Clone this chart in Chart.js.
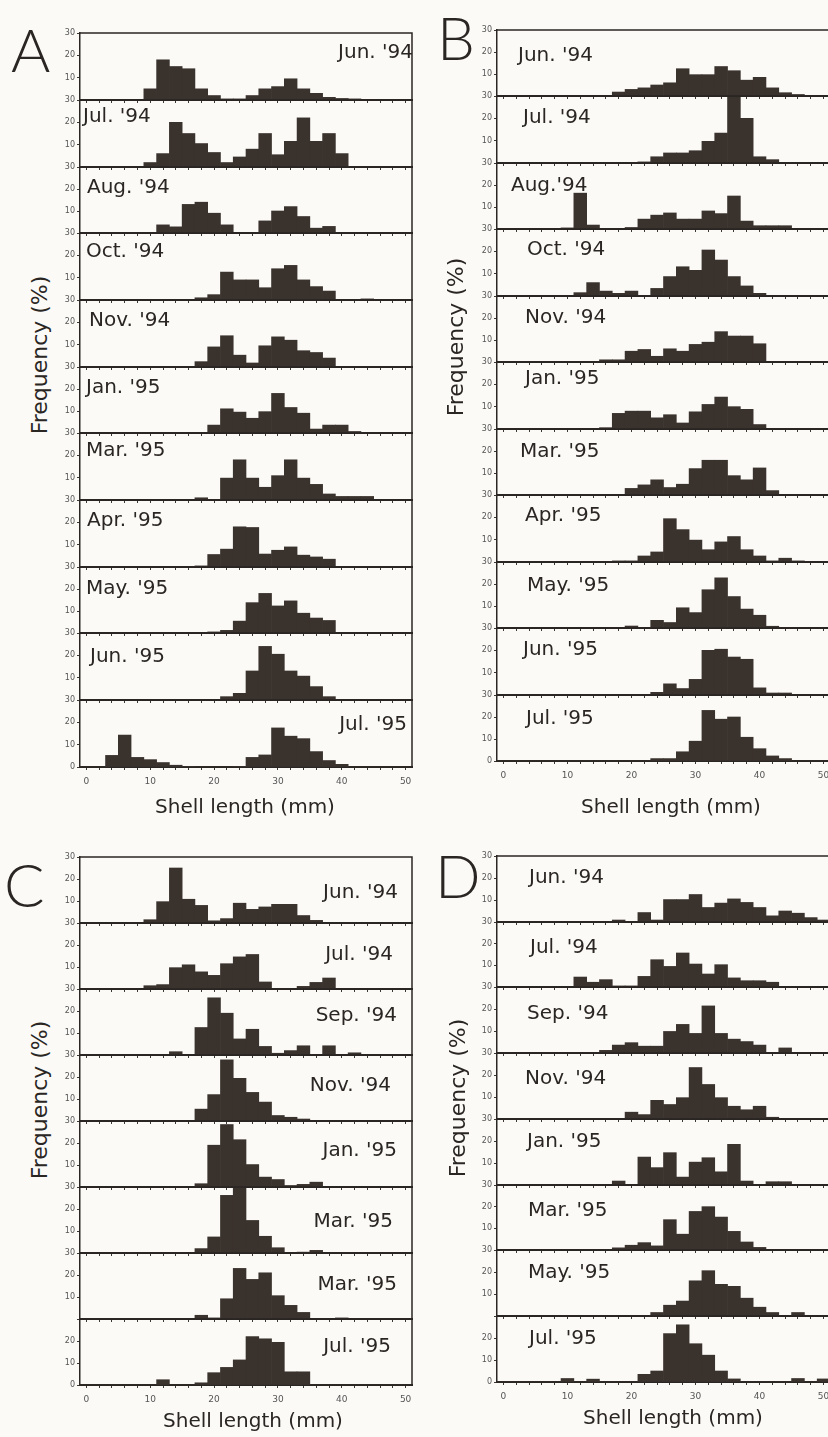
<!DOCTYPE html>
<html>
<head>
<meta charset="utf-8">
<script src="https://cdn.jsdelivr.net/npm/chart.js@4.4.1/dist/chart.umd.min.js"></script>
<style>
  html, body { margin: 0; padding: 0; background: #fbfaf7; overflow: hidden; }
  body { width: 828px; height: 1437px; position: relative; font-family: 'DejaVu Sans', sans-serif; color: #2a2623; }
  canvas { position: absolute; }
  .letter { position: absolute; font-family: 'Lato', 'DejaVu Sans', sans-serif; font-weight: 300; font-size: 60px; line-height: 1; }
  .ytitle { position: absolute; font-size: 22px; white-space: nowrap; transform: translate(-50%, -50%) rotate(-90deg); }
  .xtitle { position: absolute; font-size: 20px; white-space: nowrap; transform: translate(-50%, -50%); }
</style>
</head>
<body>
<script>
// shell length classes (mm), 2 mm bins centred on even values
const bins = [0, 2, 4, 6, 8, 10, 12, 14, 16, 18, 20, 22, 24, 26, 28, 30, 32, 34, 36, 38, 40, 42, 44, 46, 48, 50];
const yTicks = [0, 10, 20, 30];

const monthsA = ["Jun. '94", "Jul. '94", "Aug. '94", "Oct. '94", "Nov. '94", "Jan. '95", "Mar. '95", "Apr. '95", "May. '95", "Jun. '95", "Jul. '95"];
const seriesA = [
  [0,0,0,0,0,5,18,15,14,5,2,0.5,0.5,2,5,6,9.5,5,3,1.2,0.7,0.5,0.2,0,0,0],
  [0,0,0,0,0,2,6,20,15,10.5,6.5,2,4.5,8,15,5.5,11.5,22,11.5,15,6,0,0,0,0,0],
  [0,0,0,0,0,0,3.7,2.8,13,14,9,3.7,0,0,5.5,10,12,7.5,2.2,3,0,0,0,0,0,0],
  [0,0,0,0,0,0,0,0,0,1,2.4,12.5,9,9,5.5,14,15.5,9,6,4,0,0,0.5,0,0,0],
  [0,0,0,0,0,0,0,0,0,2.4,9,14,5.3,1.8,9.5,13.5,12,7.3,6.5,4,0,0,0,0,0,0],
  [0,0,0,0,0,0,0,0,0,0,3.6,11,9.5,6.7,9.7,18,11.6,9,1.8,3.6,3.6,0.7,0,0,0,0],
  [0,0,0,0,0,0,0,0,0,1,0.3,9.8,18,9.8,5.7,10.9,18,9.8,7,2.7,1.6,1.6,1.6,0,0,0],
  [0,0,0,0,0,0,0,0,0,0.5,5.6,8,18,17.7,5.8,7.5,9,5.3,4.5,3.5,0,0,0,0,0,0],
  [0,0,0,0,0,0,0,0,0,0,0.5,1.2,5.4,13.8,18,12.3,14.6,9,6.8,5.7,0,0,0,0,0,0],
  [0,0,0,0,0,0,0,0,0,0,0,1.5,3,13,24,20.5,13,10.7,6,1.5,0,0,0,0,0,0],
  [0,0,5.2,14.3,4.3,3.3,2,0.8,0.3,0,0,0,0.3,4.3,5.4,17.5,13.8,12.7,6.9,2.9,1.2,0,0,0,0,0]
];

const monthsB = ["Jun. '94", "Jul. '94", "Aug.'94", "Oct. '94", "Nov. '94", "Jan. '95", "Mar. '95", "Apr. '95", "May. '95", "Jun. '95", "Jul. '95"];
const seriesB = [
  [0,0,0,0,0,0,0,0,0,1.8,3,3.7,5,6,12.4,9.7,9.7,13.4,11.5,7.2,8.5,3.7,1.5,0.7,0.2,0],
  [0,0,0,0,0,0,0,0,0,0,0,0.5,2.8,4.5,4.5,5.5,9.7,13.4,29.5,20,2.8,1.5,0,0,0,0],
  [0,0,0,0,0,0.5,16.3,1.8,0.3,0,0.7,4.5,6.3,7.3,4.5,4.5,8.2,7,15,3.6,1.5,1.5,1.5,0,0,0],
  [0,0,0,0,0,0,1.5,6,2.2,1.2,2.2,0.3,3.4,8.7,13.1,11.5,20.6,16.1,8.7,4.5,1.2,0,0,0,0,0],
  [0,0,0,0,0,0,0,0,1,1,4.9,5.7,2.6,6,4.9,8,9,13.8,11.8,11.8,8.3,0,0,0,0,0],
  [0,0,0,0,0,0,0,0,0.6,7,8,8,5,6.4,2.7,7.7,11,14.3,10,8.8,2,0,0,0,0,0],
  [0,0,0,0,0,0,0,0,0,0,3,4.6,6.9,3.4,4.9,12,15.8,15.8,8.8,6.9,12.3,2,0,0,0,0],
  [0,0,0,0,0,0,0,0,0,0.5,0.5,2.7,4.5,19.4,14.5,9.8,5.5,9,11.4,5.5,2.7,0.5,1.7,0.5,0.3,0],
  [0,0,0,0,0,0,0,0,0,0.3,0.9,0.3,3.5,2.5,9.2,7,17.4,22.8,14.3,8.6,5.8,0.8,0.3,0,0,0],
  [0,0,0,0,0,0,0,0,0,0,0,0,1.2,5,2.9,7,20,20.5,17,16,3.2,0.9,0.9,0,0,0],
  [0,0,0,0,0,0,0,0,0,0,0,0,1.1,1.1,4.2,9,23,19,20,10.8,5.6,2.3,1.1,0,0,0]
];

const monthsC = ["Jun. '94", "Jul. '94", "Sep. '94", "Nov. '94", "Jan. '95", "Mar. '95", "Mar. '95", "Jul. '95"];
const seriesC = [
  [0,0,0,0,0.2,1.5,9.7,25,10.8,8,1,2,9,6.2,7.3,8.5,8.5,3.4,1.2,0,0,0,0,0,0,0],
  [0,0,0,0,0,1.5,2,9.7,11,7.8,6.2,11.5,14.6,15.7,3.2,0.2,0.2,1.2,3,5,0,0,0,0,0,0],
  [0,0,0,0,0,0,0,1.5,0,12.5,26,19,7.3,11.7,3.9,0.8,2,4.2,0.2,4.2,0.2,1,0,0,0,0],
  [0,0,0,0,0,0,0,0,0,5.4,12,27.8,19.4,13,8.6,2.5,1.7,0.9,0,0,0,0,0,0,0,0],
  [0,0,0,0,0,0,0,0,0,1.5,19,28.4,21.5,10.2,4.5,3.4,0.7,1.2,2.2,0,0,0,0,0,0,0],
  [0,0,0,0,0,0,0,0,0,2,7.3,26.2,30,14.8,7.6,2.4,0,0.4,1.2,0,0,0,0,0,0,0],
  [0,0,0,0,0,0,0,0,0,1.7,0.5,9.2,23,18,21,10.6,6.2,3,0,0,0.5,0,0,0,0,0],
  [0,0,0,0,0,0,2.4,0,0,1,5.6,8,11.4,22,21,19.4,6,6,0,0,0,0,0,0,0,0]
];

const monthsD = ["Jun. '94", "Jul. '94", "Sep. '94", "Nov. '94", "Jan. '95", "Mar. '95", "May. '95", "Jul. '95"];
const seriesD = [
  [0,0,0,0,0,0,0,0,0,0.9,0,4.3,0.9,10.2,10.2,12.5,6.6,8.6,10.5,8.9,6.6,2.8,5,4,2,0.9],
  [0,0,0,0,0,0,4.6,2.2,3.4,0.5,0.5,4.9,12.6,9.5,15.7,10.6,6,10.3,4.2,2.9,2.9,2.2,0,0,0,0],
  [0,0,0,0,0,0,0,0,1.2,3.6,4.7,3.1,3.1,9.8,13,8.9,21.4,8.9,6.3,5.2,3.6,0,2.3,0,0,0],
  [0,0,0,0,0,0,0,0,0,0,3.1,2,8.5,6.6,9.7,23.4,15.7,9.7,5.8,4.2,5.8,0.8,0,0,0,0],
  [0,0,0,0,0,0,0,0,0,1.8,0,12.7,7.9,14.7,3.6,10.4,12.4,6,18.5,1.8,0,1.5,1.5,0,0,0],
  [0,0,0,0,0,0,0,0,0,1,2.2,3.4,1.9,14,7.3,17.8,20,15.2,8.6,3.7,1.2,0,0,0,0,0],
  [0,0,0,0,0,0.3,0,0.3,0,0,0,0.3,1.6,4.9,6.8,16,20.6,14.4,13.5,8.1,4,1.6,0,1.6,0,0],
  [0,0,0,0,0,1.6,0,1.3,0,0,0,3.5,5,22,26,17.4,12.2,5,1.4,0,0,0,0,1.6,0,1.4]
];

const yTitle = 'Frequency (%)';
const xTitle = 'Shell length (mm)';

// page layout of the four blocks
const panels = [
  { letter: 'A', months: monthsA, series: seriesA, left: 80, right: 412, top: 33.3, bottom: 766.7,
    align: ['right','left','left','left','left','left','left','left','left','left','right'],
    lx: [333, 3, 7, 6, 9, 6, 6, 7, 6, 10, 327],
    ly: [20, 17, 21, 19, 21, 21, 18, 21, 22, 24, 25],
    letterPos: [11, 19], yTitlePos: [39, 355], xTitlePos: [245, 806], hideLastTop: false },
  { letter: 'B', months: monthsB, series: seriesB, left: 497, right: 829.5, top: 30, bottom: 761,
    align: Array(11).fill('left'),
    lx: [21, 26, 14, 30, 28, 28, 23, 28, 30, 26, 29],
    ly: [26, 22, 23, 21, 22, 17, 23, 21, 24, 22, 24],
    letterPos: [437, 7], yTitlePos: [455, 337], xTitlePos: [671, 806], hideLastTop: false },
  { letter: 'C', months: monthsC, series: seriesC, left: 80, right: 412, top: 856.7, bottom: 1385.3,
    align: Array(8).fill('right'),
    lx: [318, 313, 317, 311, 317, 313, 317, 311],
    ly: [36, 32, 27, 31, 30, 35, 32, 28],
    letterPos: [4, 854], yTitlePos: [39, 1100], xTitlePos: [253, 1420], hideLastTop: true },
  { letter: 'D', months: monthsD, series: seriesD, left: 497, right: 829.5, top: 856, bottom: 1381.7,
    align: Array(8).fill('left'),
    lx: [32, 33, 30, 28, 30, 31, 31, 32],
    ly: [22, 26, 27, 26, 23, 26, 23, 23],
    letterPos: [435, 845], yTitlePos: [457, 1098], xTitlePos: [673, 1417], hideLastTop: true }
];

Chart.defaults.font.family = "'DejaVu Sans', sans-serif";
const ink = '#2a2623';

const framePlugin = {
  id: 'frame',
  afterDraw(chart, args, opts) {
    const { ctx, chartArea: a } = chart;
    ctx.save();
    ctx.strokeStyle = ink;
    ctx.lineWidth = 1.5;
    ctx.beginPath();
    ctx.moveTo(a.left, a.top);
    ctx.lineTo(a.right, a.top);
    ctx.lineTo(a.right, a.bottom);
    ctx.stroke();
    ctx.font = "20px 'DejaVu Sans'";
    ctx.fillStyle = ink;
    ctx.textAlign = opts.align;
    ctx.textBaseline = 'middle';
    ctx.fillText(opts.text, a.left + opts.x, a.top + opts.y);
    ctx.restore();
  }
};

const yw = 24, padT = 7, padB = 7, padR = 2;

panels.forEach(p => {
  const n = p.series.length;
  const plotW = p.right - p.left;
  const edges = [];
  for (let i = 0; i <= n; i++) edges.push(Math.round(p.top + i * (p.bottom - p.top) / n));

  p.series.forEach((vals, i) => {
    const last = i === n - 1;
    const h = edges[i + 1] - edges[i];
    const xh = last ? 26 : 2;
    const cv = document.createElement('canvas');
    cv.width = Math.round(yw + plotW + padR);
    cv.height = padT + h + xh + padB;
    cv.style.left = Math.round(p.left - yw) + 'px';
    cv.style.top = (edges[i] - padT) + 'px';
    document.body.appendChild(cv);

    new Chart(cv, {
      type: 'bar',
      data: {
        labels: bins,
        datasets: [{
          data: vals,
          backgroundColor: '#3a322d',
          borderWidth: 0,
          barPercentage: 1,
          categoryPercentage: 1
        }]
      },
      options: {
        responsive: false,
        animation: false,
        events: [],
        layout: { padding: { top: padT, bottom: padB, left: 0, right: padR } },
        plugins: {
          legend: { display: false },
          tooltip: { enabled: false },
          frame: { text: p.months[i], align: p.align[i], x: p.lx[i], y: p.ly[i] }
        },
        scales: {
          x: {
            type: 'category',
            offset: true,
            z: 1,
            grid: { drawOnChartArea: false, offset: false, tickLength: 3, color: '#3d3733' },
            border: { display: true, color: ink, width: 2 },
            ticks: {
              display: last,
              autoSkip: false,
              maxRotation: 0,
              padding: 6,
              color: '#555',
              font: { size: 9 },
              callback: (v, idx) => (bins[idx] % 10 === 0 ? bins[idx] : '')
            },
            afterFit: s => { s.height = xh; s.paddingLeft = 0; s.paddingRight = 0; }
          },
          y: {
            min: 0,
            max: 30,
            z: 1,
            afterBuildTicks: s => { s.ticks = yTicks.map(v => ({ value: v })); },
            grid: { drawOnChartArea: false, tickLength: 3, color: '#3d3733' },
            border: { display: true, color: ink, width: 1.5 },
            ticks: {
              padding: 2,
              color: '#555',
              font: { size: 8 },
              callback: v => {
                if (v === 0 && !last) return '';
                if (v === 30 && last && p.hideLastTop) return '';
                return v;
              }
            },
            afterFit: s => { s.width = yw; s.paddingTop = 0; s.paddingBottom = 0; }
          }
        }
      },
      plugins: [framePlugin]
    });
  });

  const L = document.createElement('div');
  L.className = 'letter';
  L.textContent = p.letter;
  L.style.left = p.letterPos[0] + 'px';
  L.style.top = p.letterPos[1] + 'px';
  document.body.appendChild(L);

  const yt = document.createElement('div');
  yt.className = 'ytitle';
  yt.textContent = yTitle;
  yt.style.left = p.yTitlePos[0] + 'px';
  yt.style.top = p.yTitlePos[1] + 'px';
  document.body.appendChild(yt);

  const xt = document.createElement('div');
  xt.className = 'xtitle';
  xt.textContent = xTitle;
  xt.style.left = p.xTitlePos[0] + 'px';
  xt.style.top = p.xTitlePos[1] + 'px';
  document.body.appendChild(xt);
});
</script>
</body>
</html>
